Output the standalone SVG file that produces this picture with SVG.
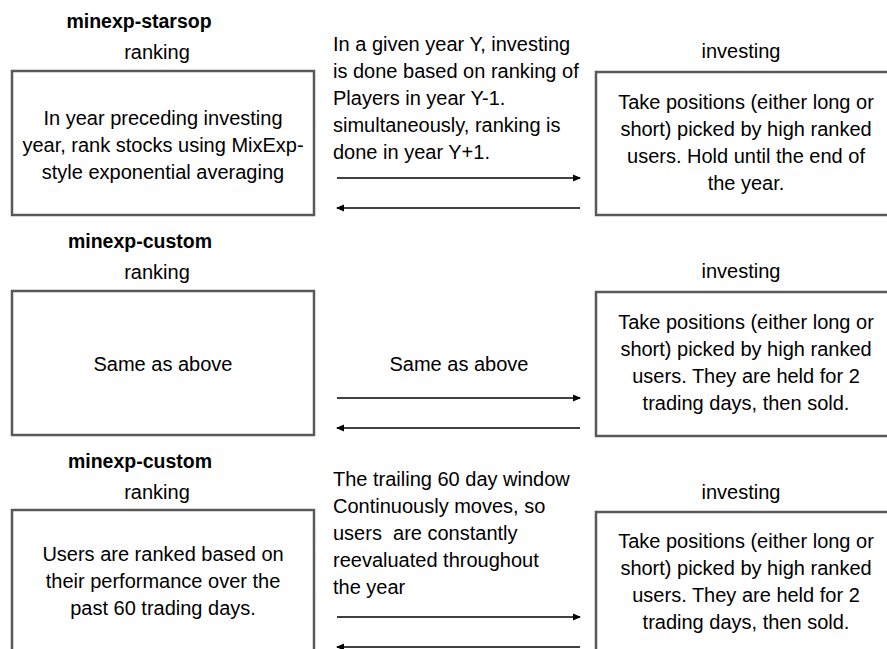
<svg xmlns="http://www.w3.org/2000/svg" width="887" height="649" viewBox="0 0 887 649">
<style>
text{font-family:"Liberation Sans",Arial,sans-serif;font-size:20px;fill:#000}
.t{font-weight:bold;font-size:19.5px}
.c{text-anchor:middle}
.box{fill:#fff;stroke:#595959;stroke-width:2.5}
.ar{stroke:#000;stroke-width:1.5;fill:none}
</style>
<defs>
<marker id="ah" markerWidth="8" markerHeight="8" refX="7" refY="4" orient="auto" markerUnits="userSpaceOnUse">
<path d="M0,0.5 L8,4 L0,7.5 z" fill="#000"/>
</marker>
</defs>
<rect width="887" height="649" fill="#fff"/>

<g id="row1-ranking">
<text class="t c" x="139" y="28">minexp-starsop</text>
<text class="c" x="157" y="59">ranking</text>
<rect class="box" x="12" y="71" width="302" height="144"/>
<text class="c" x="163" y="125">In year preceding investing</text>
<text class="c" x="163" y="152">year, rank stocks using MixExp-</text>
<text class="c" x="163" y="179">style exponential averaging</text>
</g>
<g id="row1-note">
<text x="333" y="50.5">In a given year Y, investing</text>
<text x="333" y="77.5">is done based on ranking of</text>
<text x="333" y="104.5">Players in year Y-1.</text>
<text x="333" y="131.5">simultaneously, ranking is</text>
<text x="333" y="158.5">done in year Y+1.</text>
</g>
<g id="row1-investing">
<text class="c" x="741" y="58">investing</text>
<rect class="box" x="596" y="72" width="300" height="143"/>
<text class="c" x="746" y="109">Take positions (either long or</text>
<text class="c" x="746" y="136">short) picked by high ranked</text>
<text class="c" x="746" y="163">users. Hold until the end of</text>
<text class="c" x="746" y="190">the year.</text>
</g>

<g id="row2-ranking">
<text class="t c" x="140" y="248">minexp-custom</text>
<text class="c" x="157" y="279">ranking</text>
<rect class="box" x="12" y="291" width="302" height="144"/>
<text class="c" x="163" y="371">Same as above</text>
</g>
<g id="row2-note">
<text class="c" x="459" y="371">Same as above</text>
</g>
<g id="row2-investing">
<text class="c" x="741" y="278">investing</text>
<rect class="box" x="596" y="292" width="300" height="144"/>
<text class="c" x="746" y="329">Take positions (either long or</text>
<text class="c" x="746" y="356">short) picked by high ranked</text>
<text class="c" x="746" y="383">users. They are held for 2</text>
<text class="c" x="746" y="410">trading days, then sold.</text>
</g>

<g id="row3-ranking">
<text class="t c" x="140" y="468">minexp-custom</text>
<text class="c" x="157" y="499">ranking</text>
<rect class="box" x="12" y="510" width="302" height="144"/>
<text class="c" x="163" y="561">Users are ranked based on</text>
<text class="c" x="163" y="588">their performance over the</text>
<text class="c" x="163" y="615">past 60 trading days.</text>
</g>
<g id="row3-note">
<text x="333" y="486">The trailing 60 day window</text>
<text x="333" y="513">Continuously moves, so</text>
<text x="333" y="540" xml:space="preserve">users  are constantly</text>
<text x="333" y="567">reevaluated throughout</text>
<text x="333" y="594">the year</text>
</g>
<g id="row3-investing">
<text class="c" x="741" y="499">investing</text>
<rect class="box" x="596" y="512" width="300" height="144"/>
<text class="c" x="746" y="548">Take positions (either long or</text>
<text class="c" x="746" y="575">short) picked by high ranked</text>
<text class="c" x="746" y="602">users. They are held for 2</text>
<text class="c" x="746" y="629">trading days, then sold.</text>
</g>

<g id="connectors">
<line class="ar" x1="337" y1="178" x2="580" y2="178" marker-end="url(#ah)"/>
<line class="ar" x1="580" y1="208" x2="337" y2="208" marker-end="url(#ah)"/>
<line class="ar" x1="337" y1="398" x2="580" y2="398" marker-end="url(#ah)"/>
<line class="ar" x1="580" y1="428" x2="337" y2="428" marker-end="url(#ah)"/>
<line class="ar" x1="337" y1="617" x2="580" y2="617" marker-end="url(#ah)"/>
<line class="ar" x1="580" y1="647" x2="337" y2="647" marker-end="url(#ah)"/>
</g>
</svg>
